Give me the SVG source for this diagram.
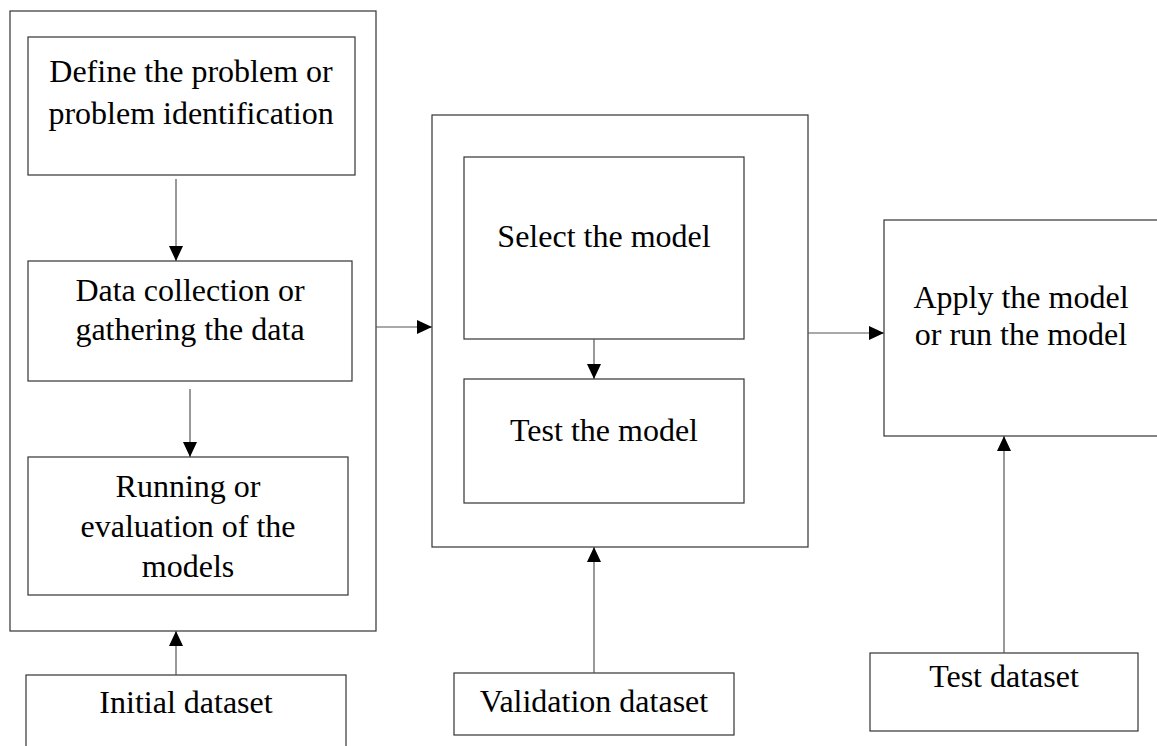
<svg xmlns="http://www.w3.org/2000/svg" width="1157" height="746" viewBox="0 0 1157 746">
<style>
.box{fill:#fff;stroke:#333;stroke-width:1.2}
.lbl{font-family:"Liberation Serif","Times New Roman",serif;font-size:32px;fill:#000;text-anchor:middle}
.con{stroke:#555;stroke-width:1.2;fill:none}
</style>
<defs>
<marker id="ah" markerWidth="15" markerHeight="14" refX="15" refY="7" orient="auto" markerUnits="userSpaceOnUse">
<path d="M0,0 L15,7 L0,14 Z" fill="#000"/>
</marker>
</defs>
<rect width="1157" height="746" fill="#fff"/>
<g id="stage1">
<rect class="box" x="10" y="11" width="366" height="620"/>
</g>
<g id="define">
<rect class="box" x="28" y="37" width="327" height="138"/>
<text class="lbl" x="191" y="82">Define the problem or</text>
<text class="lbl" x="191" y="124">problem identification</text>
</g>
<g id="collect">
<rect class="box" x="28" y="261" width="324" height="120"/>
<text class="lbl" x="190" y="301">Data collection or</text>
<text class="lbl" x="190" y="340">gathering the data</text>
</g>
<g id="running">
<rect class="box" x="28" y="457" width="320" height="138"/>
<text class="lbl" x="188" y="497">Running or</text>
<text class="lbl" x="188" y="537">evaluation of the</text>
<text class="lbl" x="188" y="577">models</text>
</g>
<g id="initial">
<rect class="box" x="26" y="675" width="320" height="90"/>
<text class="lbl" x="186" y="713">Initial dataset</text>
</g>
<g id="stage2">
<rect class="box" x="432" y="115" width="376" height="432"/>
</g>
<g id="select">
<rect class="box" x="464" y="157" width="280" height="182"/>
<text class="lbl" x="604" y="247">Select the model</text>
</g>
<g id="testmodel">
<rect class="box" x="464" y="379" width="280" height="124"/>
<text class="lbl" x="604" y="441">Test the model</text>
</g>
<g id="validation">
<rect class="box" x="454" y="673" width="280" height="62"/>
<text class="lbl" x="594" y="712">Validation dataset</text>
</g>
<g id="apply">
<rect class="box" x="884" y="220" width="276" height="216"/>
<text class="lbl" x="1021" y="308">Apply the model</text>
<text class="lbl" x="1021" y="345">or run the model</text>
</g>
<g id="testdata">
<rect class="box" x="870" y="653" width="268" height="78"/>
<text class="lbl" x="1004" y="687">Test dataset</text>
</g>
<g id="connectors">
<line class="con" x1="176" y1="179" x2="176" y2="261" marker-end="url(#ah)"/>
<line class="con" x1="190" y1="389" x2="190" y2="457" marker-end="url(#ah)"/>
<line class="con" x1="176" y1="675" x2="176" y2="631" marker-end="url(#ah)"/>
<line class="con" x1="376" y1="327" x2="432" y2="327" marker-end="url(#ah)"/>
<line class="con" x1="594" y1="339" x2="594" y2="379" marker-end="url(#ah)"/>
<line class="con" x1="594" y1="673" x2="594" y2="547" marker-end="url(#ah)"/>
<line class="con" x1="808" y1="333" x2="884" y2="333" marker-end="url(#ah)"/>
<line class="con" x1="1004" y1="653" x2="1004" y2="436" marker-end="url(#ah)"/>
</g>
</svg>
